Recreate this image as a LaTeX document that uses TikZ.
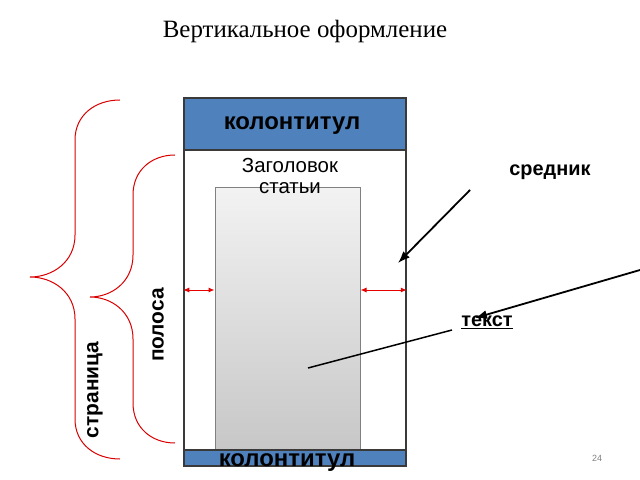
\documentclass[tikz,border=0pt]{standalone}
\usepackage{fontspec}
\setmainfont{Liberation Serif}
\setsansfont{Liberation Sans}
\usetikzlibrary{arrows.meta}
\definecolor{barblue}{HTML}{4F81BD}
\definecolor{framegray}{HTML}{3A3A3A}

\begin{document}
\begin{tikzpicture}[x=1bp, y=-1bp,
    bar/.style={draw=framegray, line width=1.5bp, fill=barblue, minimum width=222bp, inner sep=0pt},
    lbl/.style={font=\sffamily\bfseries\fontsize{21}{24}\selectfont},
    redarr/.style={red!90!black, line width=1bp, {Latex[length=6bp,width=5bp]}-{Latex[length=6bp,width=5bp]}},
    blackarr/.style={black, line width=1.8bp, -{Latex[length=12bp,width=9bp]}},
    curly/.style={red!85!black, line width=1bp}]
    \useasboundingbox (0,0) rectangle (640,480);

    % Title
    \node[font=\fontsize{25}{30}\selectfont] (title) at (305,32) {Вертикальное оформление};

    % Page with text block
    \node[draw=framegray, line width=1.5bp, minimum width=222bp, minimum height=368bp, inner sep=0pt] (page) at (295,282) {};
    \node[draw=gray, line width=1bp, top color=black!5, bottom color=black!22,
          minimum width=145bp, minimum height=262bp, inner sep=0pt] (body) at (287.5,319) {};
    \node[bar, minimum height=52bp] (header) at (295,124) {};
    \node[bar, minimum height=16bp] (footer) at (295,458) {};
    \node[lbl, font=\sffamily\bfseries\fontsize{24}{28}\selectfont] (headtext) at (292,126) {колонтитул};
    \node[lbl, font=\sffamily\bfseries\fontsize{24}{28}\selectfont] (foottext) at (287,463) {колонтитул};
    \node[align=center, font=\sffamily\fontsize{20.5}{21}\selectfont] (zagolovok) at (290,176) {Заголовок\\статьи};

    % Margins
    \coordinate (gap) at (0,290);
    \draw[redarr] (page.west |- gap) -- (body.west |- gap);
    \draw[redarr] (body.east |- gap) -- (page.east |- gap);

    % Braces: end x / vertical x / tip x / top y / tip y / bottom y
    \foreach \xe/\xv/\xt/\ya/\ym/\yb in {120/75/30/100/277/459, 175/133/90/155/297/443} {
        \draw[curly] (\xe,\ya) .. controls ({\xv+0.45*(\xe-\xv)},\ya) and (\xv,{\ya+15}) .. (\xv,{\ya+40})
            -- (\xv,{\ym-42}) .. controls (\xv,{\ym-15}) and ({\xt+0.5*(\xv-\xt)},\ym) .. (\xt,\ym)
            .. controls ({\xt+0.5*(\xv-\xt)},\ym) and (\xv,{\ym+15}) .. (\xv,{\ym+42})
            -- (\xv,{\yb-40}) .. controls (\xv,{\yb-15}) and ({\xv+0.45*(\xe-\xv)},\yb) .. (\xe,\yb);
    }
    \node[lbl, rotate=90] (stranica) at (95,390) {страница};
    \node[lbl, rotate=90] (polosa) at (158,325) {полоса};

    % Pointers
    \node[lbl, font=\sffamily\bfseries\fontsize{20}{24}\selectfont] (srednik) at (550,172) {средник};
    \node[lbl, font=\sffamily\bfseries\fontsize{20}{24}\selectfont] (tekst) at (487,322) {\underline{текст}};
    \coordinate (sredtail) at (470,190);
    \coordinate (margin) at (398,263);
    \draw[blackarr] (sredtail) -- (margin);
    \coordinate (edge) at (640,270);
    \coordinate (tekstptr) at (475,318);
    \draw[blackarr] (edge) -- (tekstptr);
    \coordinate (tekstend) at (452,330);
    \coordinate (bodypt) at (308,368);
    \draw[black, line width=1.5bp] (tekstend) -- (bodypt);

    % Slide number
    \node[font=\sffamily\fontsize{9}{10}\selectfont, text=gray] (pagenum) at (597,458) {24};
\end{tikzpicture}
\end{document}
